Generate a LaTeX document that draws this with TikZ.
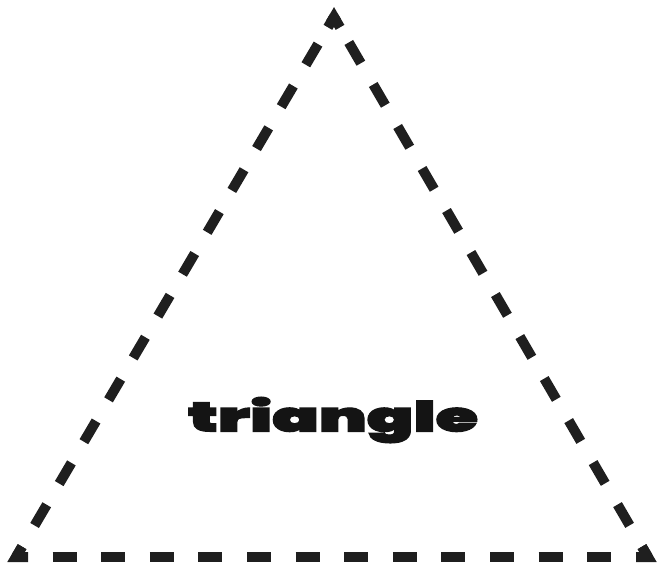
\documentclass[tikz,border=0pt]{standalone}
\usepackage{fontspec}
\newfontfamily\heavyfont{Poppins Black}[FakeBold=2.5]
\usepackage{tikz}
\usetikzlibrary{positioning, calc}

\begin{document}
\begin{tikzpicture}[
        x=1pt, y=1pt,
        side/.style={
            draw=black!88,
            line width=10pt,
            dash pattern=on 24pt off 24.6pt,
            dash phase=12pt
        },
        corner/.style={
            draw=black!88,
            line width=10pt,
            line join=miter
        },
        label/.style={
            inner sep=0pt,
            text=black!92
        }
    ]
        \useasboundingbox (0,0) rectangle (659,571);

        % Corners
        \coordinate (apex) at (334,554);
        \coordinate (left) at (16,14);
        \coordinate (right) at (648,14);

        % Sides
        \draw [side] (left) -- (apex);
        \draw [side] (right) -- (apex);
        \draw [side] (left) -- (right);

        % Corner pieces
        \draw [corner] ($(apex)!12pt!(left)$) -- (apex) -- ($(apex)!12pt!(right)$);
        \draw [corner] ($(left)!12pt!(apex)$) -- (left) -- ($(left)!12pt!(right)$);
        \draw [corner] ($(right)!12pt!(apex)$) -- (right) -- ($(right)!12pt!(left)$);

        % Label
        \node [label] (name) at (333,151) {\resizebox*{290pt}{46pt}{\heavyfont triangle}};

    \end{tikzpicture}
\end{document}
